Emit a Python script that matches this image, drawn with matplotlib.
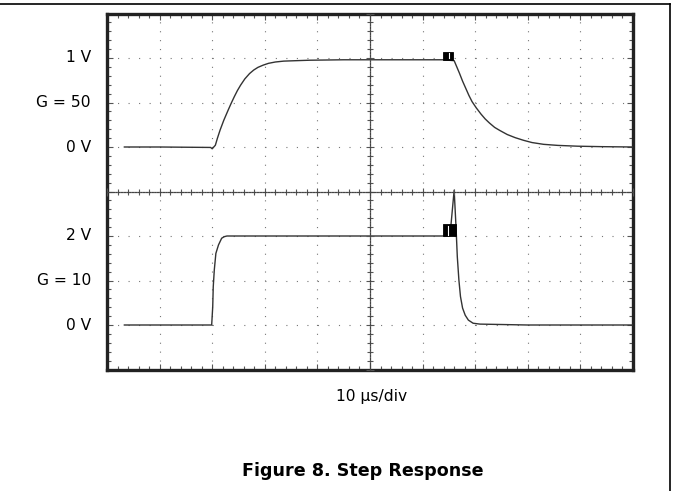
import matplotlib
matplotlib.use("Agg")
import matplotlib.pyplot as plt
from matplotlib.lines import Line2D
from matplotlib.patches import Rectangle
from matplotlib.ticker import MultipleLocator, NullFormatter

plt.rcParams['lines.scale_dashes'] = False
plt.rcParams['font.family'] = ['DejaVu Sans']

# ---------------- data (time in µs, voltage in V) ----------------
t_top = [3.3, 10, 19.7, 20.0, 20.6, 21.0, 21.5, 22.2, 23.0, 23.6, 24.2, 24.8,
         25.4, 26.2, 27.1, 27.9, 28.7, 29.7, 30.7, 32.0, 33.6, 36.0, 38.5,
         45.0, 55.0, 63.8, 66.0, 66.5, 67.0, 67.6, 68.2, 68.8, 69.4, 70.2,
         71.1, 71.9, 72.7, 73.7, 74.7, 76.1, 77.6, 79.2, 80.8, 83.0, 85.7,
         89.5, 93.9, 100]
v_top = [0.0, 0.0, -0.005, -0.02, 0.02, 0.10, 0.19, 0.30, 0.41, 0.49, 0.565, 0.635,
         0.695, 0.765, 0.825, 0.865, 0.895, 0.92, 0.94, 0.955, 0.965, 0.97, 0.975,
         0.98, 0.98, 0.98, 0.97, 0.90, 0.83, 0.74, 0.66, 0.58, 0.51, 0.44,
         0.37, 0.315, 0.27, 0.22, 0.185, 0.14, 0.105, 0.075, 0.05, 0.03, 0.018,
         0.009, 0.004, 0.0]

t_bot = [3.3, 10, 19.9, 20.1, 20.2, 20.4, 20.7, 21.2, 21.8, 22.3, 22.8, 25.0,
         40, 55, 63.8, 65.2, 66.0, 66.35, 66.6, 66.9, 67.2, 67.6, 68.1, 68.7,
         69.6, 70.9, 80, 100]
v_bot = [0, 0, 0, 0.41, 0.86, 1.24, 1.61, 1.80, 1.95, 1.985, 2.0, 2.0,
         2.0, 2.0, 2.0, 2.0, 3.03, 2.21, 1.53, 1.01, 0.64, 0.38, 0.22, 0.11,
         0.04, 0.02, 0.0, 0.0]

# channel setup: offset (div) and scale (V/div)
ch_top = dict(offset=1.0, vdiv=0.5)
ch_bot = dict(offset=-3.0, vdiv=1.0)

# left labels: (text, division)
left_labels = [("1 V", 3), ("G = 50", 2), ("0 V", 1),
               ("2 V", -1), ("G = 10", -2), ("0 V", -3)]
x_label = "10 µs/div"
title = "Figure 8. Step Response"

# trigger / cursor markers: (t_start, t_end, div_low, div_high, t_white)
markers = [(63.8, 65.7, 2.96, 3.14, 65.1),
           (63.8, 66.3, -1.0, -0.74, 64.9)]

# ---------------- figure ----------------
W, H = 673, 491
fig = plt.figure(figsize=(W / 100, H / 100), dpi=100)

L, R, T, B = 107, 633, 13.5, 369.5
rect = [L / W, 1 - B / H, (R - L) / W, (B - T) / H]
ax = fig.add_axes(rect)
ax.set_xlim(0, 100)
ax.set_ylim(-4, 4)

div_px_x = (R - L) / 10 / 5 * 0.72   # minor spacing in points
div_px_y = (B - T) / 8 / 5 * 0.72

ax.xaxis.set_major_locator(MultipleLocator(10))
ax.xaxis.set_minor_locator(MultipleLocator(2))
ax.yaxis.set_major_locator(MultipleLocator(1))
ax.yaxis.set_minor_locator(MultipleLocator(0.2))
ax.xaxis.set_major_formatter(NullFormatter())
ax.yaxis.set_major_formatter(NullFormatter())
ax.tick_params(which='both', direction='in', top=True, right=True,
               color='#555555', width=0.8)
ax.tick_params(which='major', length=4)
ax.tick_params(which='minor', length=3)
ax.grid(axis='x', which='major', color='#777777', linewidth=0.8,
        linestyle=(0, (0.8, div_px_y - 0.8)))
ax.grid(axis='y', which='major', color='#777777', linewidth=0.8,
        linestyle=(0, (0.8, div_px_x - 0.8)))
for s in ax.spines.values():
    s.set_linewidth(2.4)
    s.set_color('#222222')

# centre axes with ticks
ax2 = fig.add_axes(rect, sharex=ax, sharey=ax)
ax2.patch.set_visible(False)
ax2.spines['top'].set_visible(False)
ax2.spines['right'].set_visible(False)
ax2.spines['left'].set_position(('data', 50))
ax2.spines['bottom'].set_position(('data', 0))
for k in ('left', 'bottom'):
    ax2.spines[k].set_linestyle((0, (1.0, 1.0)))
    ax2.spines[k].set_linewidth(0.9)
    ax2.spines[k].set_color('#444444')
ax2.tick_params(which='both', direction='inout', color='#555555', width=0.8,
                labelbottom=False, labelleft=False)
ax2.tick_params(which='major', length=6)
ax2.tick_params(which='minor', length=4)
ax2.grid(False)

# traces
y_top = [ch_top['offset'] + v / ch_top['vdiv'] for v in v_top]
y_bot = [ch_bot['offset'] + v / ch_bot['vdiv'] for v in v_bot]
ax.plot(t_top, y_top, color='#333333', lw=1.0, zorder=5)
ax.plot(t_bot, y_bot, color='#333333', lw=1.0, zorder=5)

# markers
for t0, t1, d0, d1, tw in markers:
    ax.add_patch(Rectangle((t0, d0), t1 - t0, d1 - d0, facecolor='black',
                           edgecolor='black', lw=0.6, zorder=6))
    ax.plot([tw, tw], [d0 + 0.03, d1 - 0.03], color='white', lw=0.8, zorder=7)

# left labels
for txt, d in left_labels:
    y = ax.transData.transform((0, d))[1]
    fig.text(91 / W, y / (H), txt, ha='right', va='center', fontsize=11.2)

fig.text(372 / W, 1 - 397 / H, x_label, ha='center', va='center', fontsize=11.2)
fig.text(363 / W, 1 - 471 / H, title, ha='center', va='center',
         fontsize=12.6, fontweight='bold')

# outer frame lines (top and right)
fig.add_artist(Line2D([0, 670 / W], [1 - 3.5 / H, 1 - 3.5 / H],
                      color='black', lw=1.2, transform=fig.transFigure))
fig.add_artist(Line2D([670 / W, 670 / W], [0, 1 - 3.5 / H],
                      color='black', lw=1.2, transform=fig.transFigure))

fig.savefig("out.png", dpi=100)
